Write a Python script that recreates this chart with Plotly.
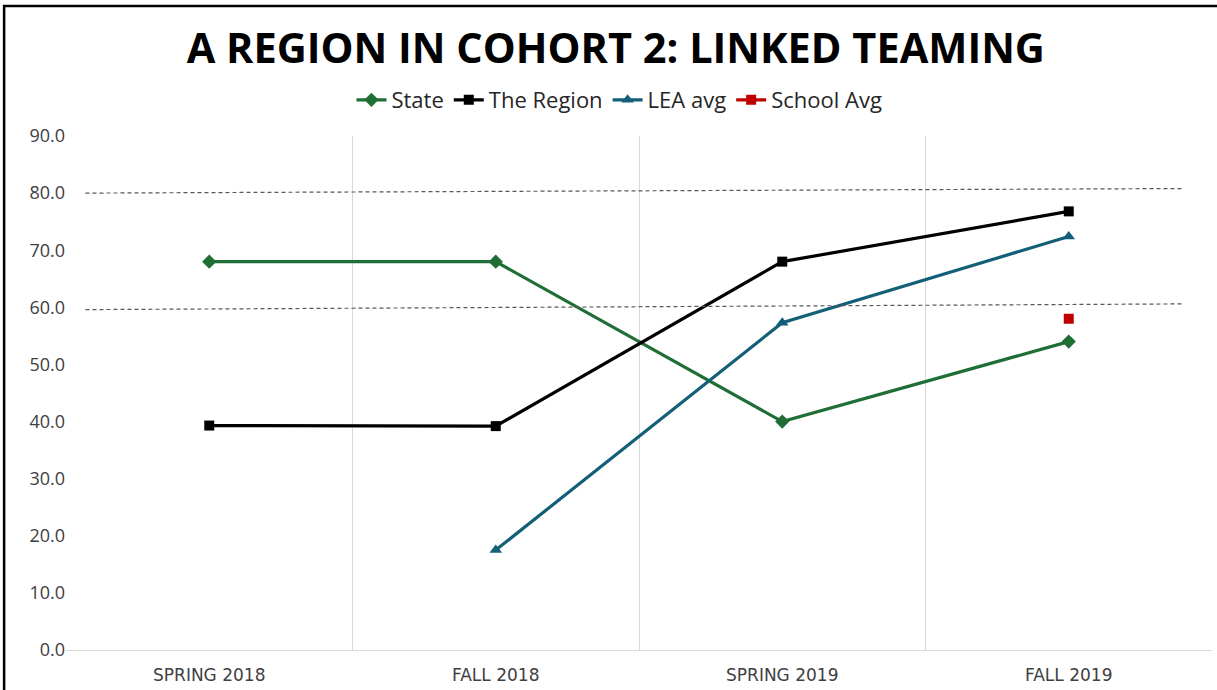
import plotly.graph_objects as go

categories = ["SPRING 2018", "FALL 2018", "SPRING 2019", "FALL 2019"]
state = [68.0, 68.0, 40.0, 54.0]
region = [39.3, 39.2, 68.0, 76.8]
lea_avg = [None, 17.5, 57.3, 72.4]
school_avg = [None, None, None, 58.0]

# reference (dashed) lines: start and end values
ref_low = [59.6, 60.6]
ref_high = [80.0, 80.8]

title = "A REGION IN COHORT 2: LINKED TEAMING"

fig = go.Figure()
series = [
    ("State", state, "#1f6e35", "diamond", 11),
    ("The Region", region, "#000000", "square", 10),
    ("LEA avg", lea_avg, "#145f78", "triangle-up", 11),
    ("School Avg", school_avg, "#c00000", "square", 10),
]
for name, vals, color, sym, sz in series:
    fig.add_trace(go.Scatter(
        x=categories, y=vals, name=name, mode="lines+markers",
        line=dict(color=color, width=3.2),
        marker=dict(color=color, symbol=sym, size=sz),
        connectgaps=False,
    ))

for vals in (ref_low, ref_high):
    fig.add_shape(type="line", xref="paper", yref="y",
                  x0=0.017, x1=0.974, y0=vals[0], y1=vals[1],
                  line=dict(color="#595959", width=1.2, dash="4px,3px"))

# outer frame
fig.add_shape(type="rect", xref="paper", yref="paper",
              x0=-0.054, x1=1.05, y0=-0.2, y1=1.253,
              line=dict(color="black", width=2.5))

fig.update_layout(
    width=1217, height=690,
    margin=dict(l=66, r=5, t=136, b=40, autoexpand=False),
    paper_bgcolor="white", plot_bgcolor="white",
    title=dict(text="<b>" + title + "</b>", x=0.506, xanchor="center",
               y=0.93, yanchor="middle",
               font=dict(family="Open Sans", size=41.5, color="black")),
    legend=dict(orientation="h", x=0.509, xref="container", xanchor="center",
                y=0.855, yref="container", yanchor="middle",
                font=dict(family="Open Sans", size=22, color="#262626"),
                itemwidth=30, tracegroupgap=0),
    showlegend=True,
)
fig.update_xaxes(type="category", range=[-0.5, 3.5], tickson="boundaries",
                 showgrid=True, gridcolor="#d9d9d9", gridwidth=1,
                 showline=True, linecolor="#d9d9d9", ticks="", automargin=False,
                 ticklabelstandoff=10,
                 tickfont=dict(family="DejaVu Sans", size=17, color="#404040"))
fig.update_yaxes(range=[0, 90], dtick=10, tickformat=".1f", showgrid=False,
                 zeroline=False, showline=False, ticks="", automargin=False,
                 tickfont=dict(family="Open Sans", size=18, color="#404040"))

fig.write_html("out.html", config={"displayModeBar": False},
               post_script="document.body.style.margin='0';document.body.style.overflow='hidden';")
